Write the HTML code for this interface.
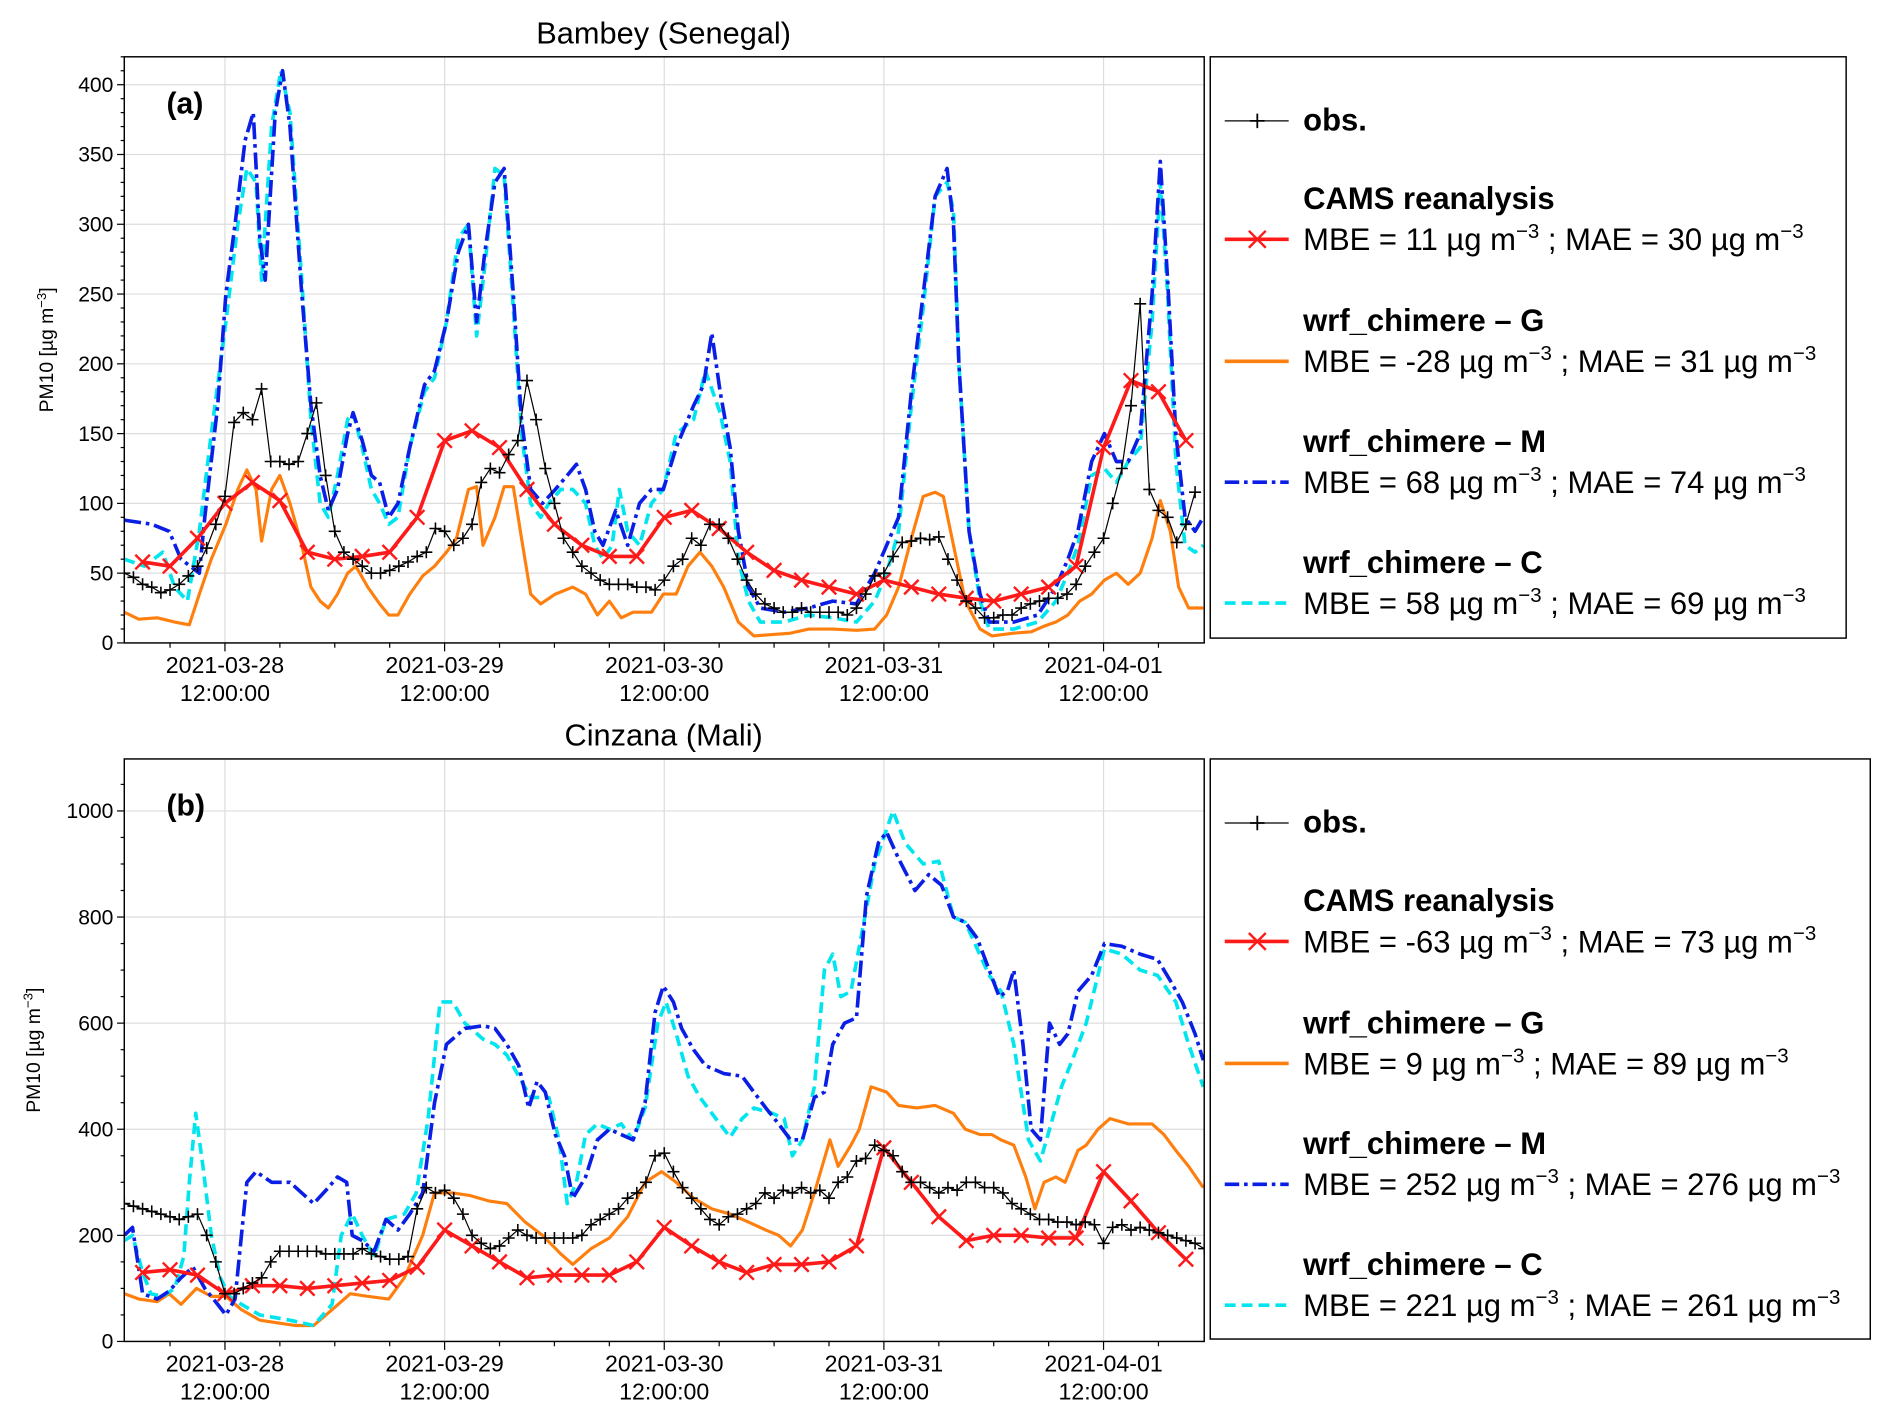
<!DOCTYPE html>
<html><head><meta charset="utf-8">
<style>
html,body{margin:0;padding:0;background:#fff;}
svg{display:block;font-family:"Liberation Sans",sans-serif;}
</style></head>
<body>
<svg id="fig" width="1892" height="1420" viewBox="0 0 1568 1175" preserveAspectRatio="none" xmlns="http://www.w3.org/2000/svg"></svg>
<script>
// ---------- Panel (a) Bambey ----------
const aObs = [50,47,42,40,36,38,42,48,55,68,85,105,158,165,160,182,130,130,128,130,150,172,120,80,65,60,55,50,50,52,55,58,62,65,82,80,70,75,85,115,125,122,135,145,188,160,125,100,75,65,55,50,45,42,42,42,40,40,38,45,55,60,75,70,85,85,75,60,45,35,28,25,22,22,25,22,22,22,22,20,25,35,48,50,62,72,73,75,74,76,60,45,30,25,18,18,20,20,25,28,30,32,32,35,42,55,65,75,100,125,170,243,110,95,90,72,85,108];
const aCamsHours = [3,6,9,12,15,18,21,24,27,30,33,36,39,42,45,48,51,54,57,60,63,66,69,72,75,78,81,84,87,90,93,96,99,102,105,108,111,114,117];
const aCams = [58,55,75,100,115,102,65,60,62,65,90,145,152,140,110,85,70,62,62,90,95,82,65,52,45,40,35,45,40,35,32,30,35,40,55,140,188,180,145];
const aGHours = [1,2.6,4.6,6.5,8.1,9.2,10.5,12.1,13.4,14.4,15.4,16.0,17.1,18.0,19.1,20.4,21.4,22.4,23.3,24.3,25.4,26.3,27.6,28.9,29.9,30.9,32.2,33.6,34.9,36.2,37.3,38.6,39.5,40.2,41.5,42.5,43.5,44.4,45.4,46.5,48.1,50.0,51.4,52.7,54.0,55.3,56.6,58.6,59.9,61.3,62.6,63.9,65.2,66.5,68.1,69.8,71.8,73.8,75.8,78.4,81.0,83.0,84.3,85.6,87.0,88.3,89.6,90.5,91.6,92.9,94.5,95.8,98.2,100.1,101.5,102.8,104.1,105.4,106.7,108.1,109.4,110.7,112.0,113.3,114.2,115.3,116.2,117.3,118.9];
const aG = [22,17,18,15,13,35,60,85,110,124,110,73,110,120,100,70,40,30,25,35,50,55,40,28,20,20,35,48,55,65,75,110,112,70,90,112,112,75,35,28,35,40,35,20,30,18,22,22,35,35,55,65,55,40,15,5,6,7,10,10,9,10,20,40,75,105,108,105,70,30,10,5,7,8,12,15,20,30,35,45,50,42,50,75,102,80,40,25,25];
const aMHours = [1,4,5.9,7.2,9.2,9.8,11.2,12.1,13.1,14.2,15.1,15.8,16.4,17.5,18.3,19.1,20.4,21.4,22.4,23.3,24.3,25.4,26.0,27.0,28.0,28.9,29.9,30.9,32.2,33.8,34.9,36.2,37.5,38.6,39.5,40.4,41.5,42.5,43.5,44.4,45.4,46.7,48.1,49.4,50.4,51.4,52.4,53.3,54.7,56.0,57.3,58.6,59.9,61.3,63.2,64.3,65.2,66.1,67.2,68.1,69.2,70.5,73.1,75.8,78.4,81.0,83.0,84.3,85.6,87.0,88.3,89.6,90.9,91.6,92.2,93.3,94.5,95.5,98.2,100.8,102.8,104.1,105.2,106.7,108.1,109.4,110.7,112.0,113.3,114.2,115.0,115.9,116.9,118.0,118.9];
const aM = [88,85,80,60,50,90,170,250,300,360,380,290,260,380,410,370,250,170,120,95,110,150,165,145,120,115,90,100,140,185,195,230,280,300,230,280,330,340,250,160,110,100,110,120,128,110,80,70,95,70,100,110,110,140,170,185,222,180,140,80,40,25,22,25,30,28,50,70,90,180,250,320,340,300,200,80,35,15,15,20,40,60,80,130,150,130,130,150,250,345,260,150,90,80,90];
const aCHours = [1,3.2,5.2,6.5,7.9,9.2,10.5,12.1,13.4,14.4,15.4,16.0,17.1,18.1,19.1,20.4,21.4,22.4,23.3,24.3,25.4,26.0,27.0,28.0,28.9,29.9,30.9,32.2,33.8,34.9,36.2,37.5,38.6,39.5,40.4,41.5,42.5,43.5,44.4,45.4,46.5,47.4,48.7,50.0,51.4,52.4,53.3,54.3,55.1,56.0,57.3,58.6,59.9,61.3,63.2,64.5,66.1,67.2,68.1,69.2,70.5,73.1,75.8,78.4,81.0,83.0,84.3,85.6,87.0,88.3,89.6,90.9,91.6,92.2,93.3,94.5,95.5,98.2,100.8,102.8,104.1,105.2,106.7,108.1,109.4,110.7,112.0,113.3,114.2,115.0,115.9,116.9,118.0,118.9];
const aC = [60,55,65,40,30,80,150,230,300,340,330,260,370,410,380,260,160,100,90,120,160,165,140,110,100,85,90,140,180,190,230,290,300,220,270,340,335,240,150,100,90,100,110,110,100,70,60,70,110,80,70,100,110,150,160,195,165,130,60,30,15,15,20,18,15,30,50,80,170,240,320,330,310,200,80,30,10,10,15,30,50,70,120,125,115,130,140,230,330,250,130,70,65,70];

// ---------- Panel (b) Cinzana ----------
const bObs = [260,255,250,245,240,235,230,235,240,200,150,90,90,100,110,120,150,170,170,170,170,170,165,165,165,165,175,165,160,155,155,160,250,290,280,285,270,240,200,185,175,180,195,210,200,195,195,195,195,195,200,220,230,240,250,270,280,300,350,355,320,290,270,250,230,220,235,240,250,260,280,270,285,280,290,280,285,270,300,310,340,345,370,360,350,320,300,300,290,280,290,285,300,300,290,290,280,260,250,240,230,230,225,225,220,225,220,185,215,220,210,215,210,205,200,195,190,185,175];
const bCamsHours = [3,6,9,12,15,18,21,24,27,30,33,36,39,42,45,48,51,54,57,60,63,66,69,72,75,78,81,84,87,90,93,96,99,102,105,108,111,114,117];
const bCams = [130,135,125,90,105,105,100,105,110,115,140,210,180,150,120,125,125,125,150,215,180,150,130,145,145,150,180,365,300,235,190,200,200,195,195,320,265,205,155];
const bGHours = [1,2.6,4.6,5.9,7.2,8.9,10.5,12.1,13.8,15.8,17.7,19.7,21.7,23.7,25.7,27.6,29.9,31.6,33.6,34.9,36.9,38.8,40.8,42.8,44.8,46.7,48.7,50.0,52.0,54.0,56.0,57.9,59.7,61.3,63.2,65.2,67.2,69.2,71.1,72.5,73.8,75.1,76.4,78.1,79.0,80.4,81.3,82.6,84.3,85.6,87.6,89.6,91.6,92.9,94.5,95.8,96.8,98.2,99.5,100.5,101.5,102.8,103.8,105.2,106.1,107.4,108.7,110.7,113.3,114.6,115.9,117.3,118.9];
const bG = [90,80,75,90,70,100,85,85,60,40,35,30,30,60,90,85,80,120,200,280,280,275,265,260,225,200,165,145,175,195,235,300,320,300,270,250,240,225,210,200,180,210,280,380,330,370,400,480,470,445,440,445,430,400,390,390,380,370,310,250,300,310,300,360,370,400,420,410,410,390,360,330,290];
const bMHours = [1,1.9,3,4.6,5.9,7.2,8.5,9.8,11.2,12.1,13.1,13.8,14.4,15.4,17.1,19.1,20.4,21.7,23.3,24.3,25.3,25.9,27.0,28.3,29.6,30.9,32.2,33.6,34.9,36.2,38.2,40.2,41.5,42.8,44.1,45.2,46.1,47.0,48.1,49.1,50.0,51.4,52.7,54.0,55.3,56.6,57.9,59.0,59.9,61.0,61.9,63.2,64.5,66.5,68.5,69.8,71.1,72.5,73.8,75.1,76.4,77.5,78.4,79.7,81.0,82.1,83.4,84.3,85.6,87.4,88.9,90.3,91.6,92.9,94.2,95.5,96.6,97.5,98.2,99.2,100.1,101.1,102.1,103.2,104.1,105.2,106.7,108.1,110.0,112.0,113.9,115.3,116.6,118.0,118.9];
const bM = [200,215,90,80,95,120,140,100,70,50,80,200,300,320,300,300,280,260,290,310,300,200,190,170,230,210,240,280,450,560,590,595,590,560,520,440,490,470,390,350,270,310,380,400,390,380,450,620,670,640,590,550,520,505,500,470,440,410,380,380,460,470,560,600,610,840,940,960,910,850,880,860,800,790,760,700,650,660,700,560,400,380,600,560,580,660,690,750,745,730,720,680,640,580,530];
const bCHours = [1,1.9,3,3.9,5.2,6.5,7.5,8.1,8.8,9.6,10.5,11.5,12.5,13.8,15.8,19.1,21.7,23.7,24.7,25.9,27.0,28.3,29.6,31.6,32.9,34.2,35.5,36.9,38.2,40.2,41.5,42.8,44.1,45.4,46.5,47.4,48.5,49.4,50.4,51.4,52.7,54.0,55.3,56.6,57.9,59.3,60.2,61.3,62.6,63.9,65.2,67.2,68.5,69.8,71.8,73.1,74.0,75.1,76.4,77.5,78.4,79.3,80.4,81.7,83.0,85.0,86.3,88.3,90.0,91.6,92.9,94.2,95.5,96.8,98.2,99.8,101.1,102.1,103.4,104.8,106.1,108.1,110.0,112.0,113.9,115.9,117.3,118.9];
const bC = [190,200,130,90,85,100,160,300,430,330,200,120,85,70,50,40,30,70,200,240,200,160,230,240,280,420,640,640,600,570,560,540,500,460,460,460,380,260,300,390,410,400,410,380,440,600,640,580,500,460,430,385,420,440,430,420,350,380,480,700,730,650,660,780,900,1000,940,900,905,800,790,740,690,660,560,380,340,400,480,540,600,740,730,700,690,640,560,480];

const aYTicks = [0,50,100,150,200,250,300,350,400];
const bYTicks = [0,200,400,600,800,1000];
const dayLabels = ["2021-03-28","2021-03-29","2021-03-30","2021-03-31","2021-04-01"];
const dayNoonHours = [12,36,60,84,108];

const NS = "http://www.w3.org/2000/svg";
const svg = document.getElementById('fig');
function el(tag, attrs, parent) {
  const e = document.createElementNS(NS, tag);
  for (const k in attrs) e.setAttribute(k, attrs[k]);
  (parent || svg).appendChild(e);
  return e;
}
const X0 = 103, X1 = 998, T0 = 1, T1 = 119;
function xScale(t) { return X0 + (t - T0) * (X1 - X0) / (T1 - T0); }

function drawPanel(p) {
  const g = el('g', {});
  
  
  const yS = v => p.yBot - v * (p.yBot - p.yTop) / p.yMax;
  dayNoonHours.forEach(h => {
    const gl = el('line', {x1: xScale(h), x2: xScale(h), y1: p.yTop, y2: p.yBot, stroke: '#dddddd', 'stroke-width': 1}, g);
    
    
  });
  p.yTicks.forEach(v => {
    const gl = el('line', {x1: X0, x2: X1, y1: yS(v), y2: yS(v), stroke: '#dddddd', 'stroke-width': 1}, g);
    
    
  });
  const ti = el('text', {x: 550, y: p.yTop - 11, 'text-anchor': 'middle', 'font-size': 25.5}, g);
  ti.textContent = p.title;
  
  
  const cp = el('clipPath', {id: 'clip-' + p.name}, g);
  el('rect', {x: X0, y: p.yTop, width: X1 - X0, height: p.yBot - p.yTop}, cp);
  const dg = el('g', {'clip-path': 'url(#clip-' + p.name + ')'}, g);
  function line(ts, vs, color, w, dash, nm) {
    const n = Math.min(ts.length, vs.length);
    let d = '';
    for (let i = 0; i < n; i++) d += (i ? 'L' : 'M') + xScale(ts[i]).toFixed(1) + ',' + yS(vs[i]).toFixed(1);
    const pa = el('path', {d: d, fill: 'none', stroke: color, 'stroke-width': w, 'stroke-linejoin': 'round'}, dg);
    if (dash) pa.setAttribute('stroke-dasharray', dash);
    
    
  }
  const obsHours = p.obs.map((v, i) => i + 1);
  line(p.gH, p.g, '#ff7f0e', 2.6, null, 'series-wrf-chimere-g');
  line(p.cH, p.c, '#00e5ee', 3, '9,5', 'series-wrf-chimere-c');
  line(p.mH, p.m, '#0a1ee6', 3, '14,4,3,4', 'series-wrf-chimere-m');
  line(p.camsH, p.cams, '#ff1a1a', 3, null, 'series-cams');
  p.camsH.forEach((t, i) => {
    const x = xScale(t), y = yS(p.cams[i]), s = 6;
    const mk = el('path', {d: `M${x-s},${y-s}L${x+s},${y+s}M${x-s},${y+s}L${x+s},${y-s}`, stroke: '#ff1a1a', 'stroke-width': 2}, dg);
    
    
  });
  line(obsHours, p.obs, '#000', 1, null, 'series-obs');
  obsHours.forEach((t, i) => {
    const x = xScale(t), y = yS(p.obs[i]), s = 5;
    const mk = el('path', {d: `M${x-s},${y}L${x+s},${y}M${x},${y-s}L${x},${y+s}`, stroke: '#000', 'stroke-width': 1.3}, dg);
    
    
  });
  const fr = el('rect', {x: X0, y: p.yTop, width: X1 - X0, height: p.yBot - p.yTop, fill: 'none', stroke: '#000', 'stroke-width': 1.2}, g);
  
  
  for (let v = 0; v <= p.yMax; v += p.yMinor) {
    const big = p.yTicks.includes(v);
    el('line', {x1: X0 - (big ? 6 : 3), x2: X0, y1: yS(v), y2: yS(v), stroke: '#000', 'stroke-width': 1}, g);
  }
  p.yTicks.forEach(v => {
    const tl = el('text', {x: X0 - 9, y: yS(v) + 6, 'text-anchor': 'end', 'font-size': 17.5}, g);
    tl.textContent = v;
    
    
  });
  for (let h = 6; h <= 118; h += 6) {
    const big = dayNoonHours.includes(h);
    el('line', {x1: xScale(h), x2: xScale(h), y1: p.yBot, y2: p.yBot + (big ? 7 : 4), stroke: '#000', 'stroke-width': 1}, g);
  }
  dayNoonHours.forEach((h, i) => {
    const t1 = el('text', {x: xScale(h), y: p.yBot + 25, 'text-anchor': 'middle', 'font-size': 19.2}, g);
    t1.textContent = dayLabels[i];
    
    
    const t2 = el('text', {x: xScale(h), y: p.yBot + 48, 'text-anchor': 'middle', 'font-size': 19.2}, g);
    t2.textContent = '12:00:00';
    
    
  });
  const yl = el('text', {transform: `translate(${p.ylx},${(p.yTop + p.yBot) / 2}) rotate(-90)`, 'text-anchor': 'middle', 'font-size': 16}, g);
  yl.innerHTML = 'PM10 [µg m<tspan dy="-6" font-size="11">−3</tspan><tspan dy="6">]</tspan>';
  
  
  const pl = el('text', {x: 138, y: p.yTop + 47, 'font-size': 25, 'font-weight': 'bold'}, g);
  pl.textContent = p.label;
  
  
  const lg = el('g', {}, g);
  
  
  el('rect', {x: 1003, y: p.yTop, width: p.legW, height: p.legH, fill: '#fff', stroke: '#000', 'stroke-width': 1.2}, lg);
  const L = p.yTop;
  const entries = [
    {title: null, y: L + 53, color: '#000', w: 1, dash: null, mk: 'plus', text: 'obs.'},
    {title: 'CAMS reanalysis', y: L + 151, color: '#ff1a1a', w: 3, dash: null, mk: 'x', stats: p.stats[0]},
    {title: 'wrf_chimere – G', y: L + 252, color: '#ff7f0e', w: 3, dash: null, stats: p.stats[1]},
    {title: 'wrf_chimere – M', y: L + 352, color: '#0a1ee6', w: 3, dash: '12,4,3,4', stats: p.stats[2]},
    {title: 'wrf_chimere – C', y: L + 452, color: '#00e5ee', w: 3, dash: '9,5', stats: p.stats[3]}
  ];
  entries.forEach(e => {
    const eg = el('g', {}, lg);
    
    
    const ln = el('line', {x1: 1015, x2: 1068, y1: e.y, y2: e.y, stroke: e.color, 'stroke-width': e.w}, eg);
    if (e.dash) ln.setAttribute('stroke-dasharray', e.dash);
    if (e.mk === 'plus') el('path', {d: `M1036,${e.y}L1048,${e.y}M1042,${e.y-6}L1042,${e.y+6}`, stroke: '#000', 'stroke-width': 1.5}, eg);
    if (e.mk === 'x') el('path', {d: `M1035,${e.y-7}L1049,${e.y+7}M1035,${e.y+7}L1049,${e.y-7}`, stroke: '#ff1a1a', 'stroke-width': 2}, eg);
    if (e.title) {
      const tt = el('text', {x: 1080, y: e.y - 25, 'font-size': 25.7, 'font-weight': 'bold'}, eg);
      tt.textContent = e.title;
      const st = el('text', {x: 1080, y: e.y + 9, 'font-size': 25.7}, eg);
      st.innerHTML = `MBE = ${e.stats[0]} µg m<tspan dy="-10" font-size="17">−3</tspan><tspan dy="10"> ; MAE = ${e.stats[1]} µg m</tspan><tspan dy="-10" font-size="17">−3</tspan>`;
    } else {
      const tt = el('text', {x: 1080, y: e.y + 8, 'font-size': 25.7, 'font-weight': 'bold'}, eg);
      tt.textContent = e.text;
    }
  });
}

drawPanel({name: 'panel-a-bambey', title: 'Bambey (Senegal)', label: '(a)', yTop: 47, yBot: 532, yMax: 420, yTicks: aYTicks, yMinor: 10, ylx: 44,
  obs: aObs, camsH: aCamsHours, cams: aCams, gH: aGHours, g: aG, mH: aMHours, m: aM, cH: aCHours, c: aC,
  legW: 527, legH: 481, stats: [['11','30'],['-28','31'],['68','74'],['58','69']]});
drawPanel({name: 'panel-b-cinzana', title: 'Cinzana (Mali)', label: '(b)', yTop: 628, yBot: 1110, yMax: 1098, yTicks: bYTicks, yMinor: 50, ylx: 33,
  obs: bObs, camsH: bCamsHours, cams: bCams, gH: bGHours, g: bG, mH: bMHours, m: bM, cH: bCHours, c: bC,
  legW: 547, legH: 480, stats: [['-63','73'],['9','89'],['252','276'],['221','261']]});
</script>
</body></html>
